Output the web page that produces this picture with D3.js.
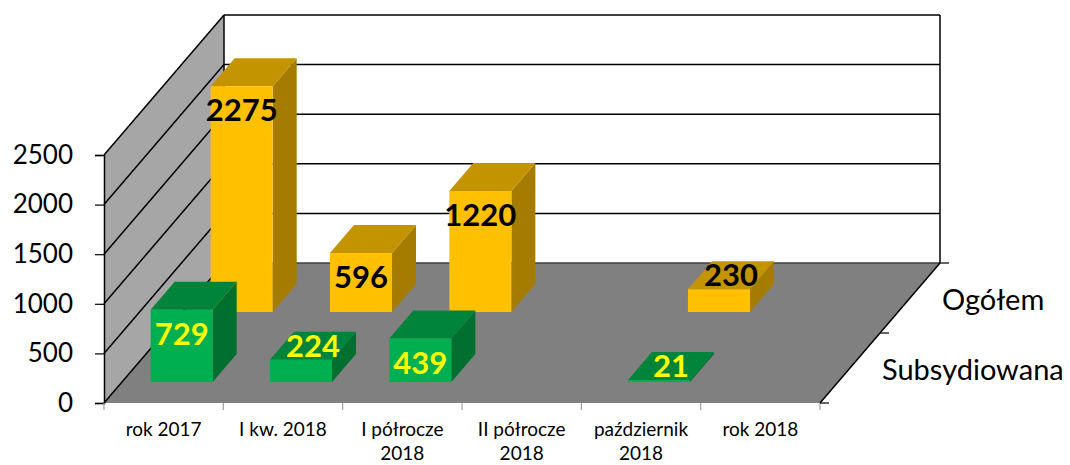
<!DOCTYPE html>
<html>
<head>
<meta charset="utf-8">
<script src="https://cdn.jsdelivr.net/npm/d3@7"></script>
<style>
  body { margin: 0; background: #fff; }
  text { font-family: Lato, "Open Sans", sans-serif; }
</style>
</head>
<body>
<script>
// categories (multi-line labels) and the two series
const categories = [["rok 2017"], ["I kw. 2018"], ["I półrocze", "2018"], ["II półrocze", "2018"], ["październik", "2018"], ["rok 2018"]];
const seriesNames = ["Subsydiowana", "Ogółem"];   // front row, back row
const subsydiowana = [729, 224, 439, null, 21, null];
const ogolem = [2275, 596, 1220, null, 230, null];
const yTicks = [0, 500, 1000, 1500, 2000, 2500];

const WIDTH = 1070, HEIGHT = 465;
const DX = 120, DY = 140;   // depth offset of the back wall
const colors = {
  "Ogółem": {front: "#FFC000", top: "#C39300", side: "#A57C00", text: "#000"},
  "Subsydiowana": {front: "#00B050", top: "#00843C", side: "#006F30", text: "#FFFF00"}
};

const svg = d3.select("body").append("svg")
  .attr("width", WIDTH).attr("height", HEIGHT);

const keys = categories.map((d, i) => i);
const xScale = d3.scaleBand().domain(keys).range([104, 820]).padding(0);
const yScale = d3.scaleLinear().domain([0, 2500]).range([403, 155]);
const zScale = d3.scaleBand().domain(seriesNames).range([0, 1]).padding(0);

// oblique projection: x on the floor, value, depth 0..1
const P = (x, v, z) => [x + z * DX, yScale(v) - z * DY];
const poly = pts => pts.map(p => p.join(",")).join(" ");

const x0 = xScale.range()[0], x1 = xScale.range()[1];

// walls and floor
svg.append("polygon")
  .attr("points", poly([P(x0, 0, 0), P(x0, 0, 1), P(x0, 2500, 1), P(x0, 2500, 0)]))
  .attr("fill", "#A6A6A6");
svg.append("polygon")
  .attr("points", poly([P(x0, 0, 1), P(x1, 0, 1), P(x1, 2500, 1), P(x0, 2500, 1)]))
  .attr("fill", "#fff");
svg.append("polygon")
  .attr("points", poly([P(x0, 0, 0), P(x1, 0, 0), P(x1, 0, 1), P(x0, 0, 1)]))
  .attr("fill", "#808080");

// gridlines on left and back wall
yTicks.forEach(v => {
  const a = P(x0, v, 0), b = P(x0, v, 1), c = P(x1, v, 1);
  svg.append("line").attr("x1", a[0]).attr("y1", a[1]).attr("x2", b[0]).attr("y2", b[1])
    .attr("stroke", "#000").attr("stroke-width", 1.5);
  svg.append("line").attr("x1", b[0]).attr("y1", b[1]).attr("x2", c[0]).attr("y2", c[1])
    .attr("stroke", v === 0 ? "#404040" : "#000").attr("stroke-width", 1.5);
});
[[P(x0, 0, 1), P(x0, 2500, 1)], [P(x1, 0, 1), P(x1, 2500, 1)]].forEach(([a, b]) => {
  svg.append("line").attr("x1", a[0]).attr("y1", a[1]).attr("x2", b[0]).attr("y2", b[1])
    .attr("stroke", "#000").attr("stroke-width", 1.5);
});

// y axis
const yAxis = d3.axisLeft(yScale).tickValues(yTicks).tickFormat(d3.format("d"))
  .tickSize(9).tickPadding(22);
const yAxisGroup = svg.append("g")
  .attr("transform", `translate(${x0},0)`)
  .call(yAxis);
yAxisGroup.select(".domain").attr("stroke", "#000").attr("stroke-width", 1.5);
yAxisGroup.selectAll(".tick line").attr("stroke", "#000").attr("stroke-width", 1.2);
yAxisGroup.selectAll("text").attr("font-size", 26).attr("fill", "#000")
  .style("font-family", "Lato, sans-serif");

// category ticks and labels
const catTicks = keys.concat([keys.length]);
svg.selectAll(".cat-tick")
  .data(catTicks)
  .join("line")
  .attr("class", "cat-tick")
  .attr("x1", d => d < keys.length ? xScale(d) : x1)
  .attr("x2", d => d < keys.length ? xScale(d) : x1)
  .attr("y1", yScale(0)).attr("y2", yScale(0) + 7)
  .attr("stroke", "#A0A0A0").attr("stroke-width", 1.2);

svg.selectAll(".cat-label")
  .data(categories)
  .join("text")
  .attr("class", "cat-label")
  .attr("text-anchor", "middle")
  .attr("font-size", 19)
  .attr("fill", "#000")
  .each(function(d, i) {
    d3.select(this).selectAll("tspan")
      .data(d)
      .join("tspan")
      .attr("x", xScale(i) + xScale.bandwidth() / 2)
      .attr("y", (t, j) => 436 + j * 24)
      .text(t => t);
  });

// depth axis on the right
const dA = P(x1, 0, 0), dB = P(x1, 0, 1);
svg.append("line").attr("x1", dA[0]).attr("y1", dA[1]).attr("x2", dB[0]).attr("y2", dB[1])
  .attr("stroke", "#000").attr("stroke-width", 1.5);
[0, 0.5, 1].forEach(z => {
  const p = P(x1, 0, z);
  svg.append("line").attr("x1", p[0]).attr("y1", p[1]).attr("x2", p[0] + 9).attr("y2", p[1])
    .attr("stroke", "#000").attr("stroke-width", 1.2);
});
svg.selectAll(".series-label")
  .data(seriesNames)
  .join("text")
  .attr("class", "series-label")
  .attr("x", d => P(x1, 0, zScale(d) + zScale.bandwidth() / 2)[0] + 32)
  .attr("y", d => P(x1, 0, zScale(d) + zScale.bandwidth() / 2)[1] + 12)
  .attr("font-size", 29)
  .attr("fill", "#000")
  .text(d => d);

// bars, back row first
const barData = [];
[["Ogółem", ogolem], ["Subsydiowana", subsydiowana]].forEach(([name, vals]) => {
  vals.forEach((v, i) => { if (v != null) barData.push({name, i, v}); });
});

const bw = xScale.bandwidth();
function barGeom(d) {
  const xa = xScale(d.i) + bw * 0.24, xb = xScale(d.i) + bw * 0.76;
  const za = zScale(d.name) + zScale.bandwidth() * 0.3;
  const zb = zScale(d.name) + zScale.bandwidth() * 0.7;
  return {xa, xb, za, zb};
}

const bars = svg.selectAll(".bar")
  .data(barData)
  .join("g")
  .attr("class", "bar");

bars.append("polygon")
  .attr("points", d => { const g = barGeom(d);
    return poly([P(g.xb, 0, g.za), P(g.xb, 0, g.zb), P(g.xb, d.v, g.zb), P(g.xb, d.v, g.za)]); })
  .attr("fill", d => colors[d.name].side);
bars.append("polygon")
  .attr("points", d => { const g = barGeom(d);
    return poly([P(g.xa, d.v, g.za), P(g.xb, d.v, g.za), P(g.xb, d.v, g.zb), P(g.xa, d.v, g.zb)]); })
  .attr("fill", d => colors[d.name].top);
bars.append("polygon")
  .attr("points", d => { const g = barGeom(d);
    return poly([P(g.xa, 0, g.za), P(g.xb, 0, g.za), P(g.xb, d.v, g.za), P(g.xa, d.v, g.za)]); })
  .attr("fill", d => colors[d.name].front);

// value labels
svg.selectAll(".value-label")
  .data(barData)
  .join("text")
  .attr("class", "value-label")
  .attr("text-anchor", "middle")
  .attr("dy", "0.36em")
  .attr("font-size", 31)
  .attr("font-weight", "bold")
  .attr("fill", d => colors[d.name].text)
  .each(function(d) {
    const g = barGeom(d);
    const front = P((g.xa + g.xb) / 2, d.v, g.za);
    const h = yScale(0) - yScale(d.v);
    let pos;
    if (h > 40) pos = [front[0], front[1] + 24];
    else pos = P((g.xa + g.xb) / 2, d.v, (g.za + g.zb) / 2);
    d3.select(this).attr("x", pos[0]).attr("y", pos[1]);
  })
  .text(d => d.v);
</script>
</body>
</html>
